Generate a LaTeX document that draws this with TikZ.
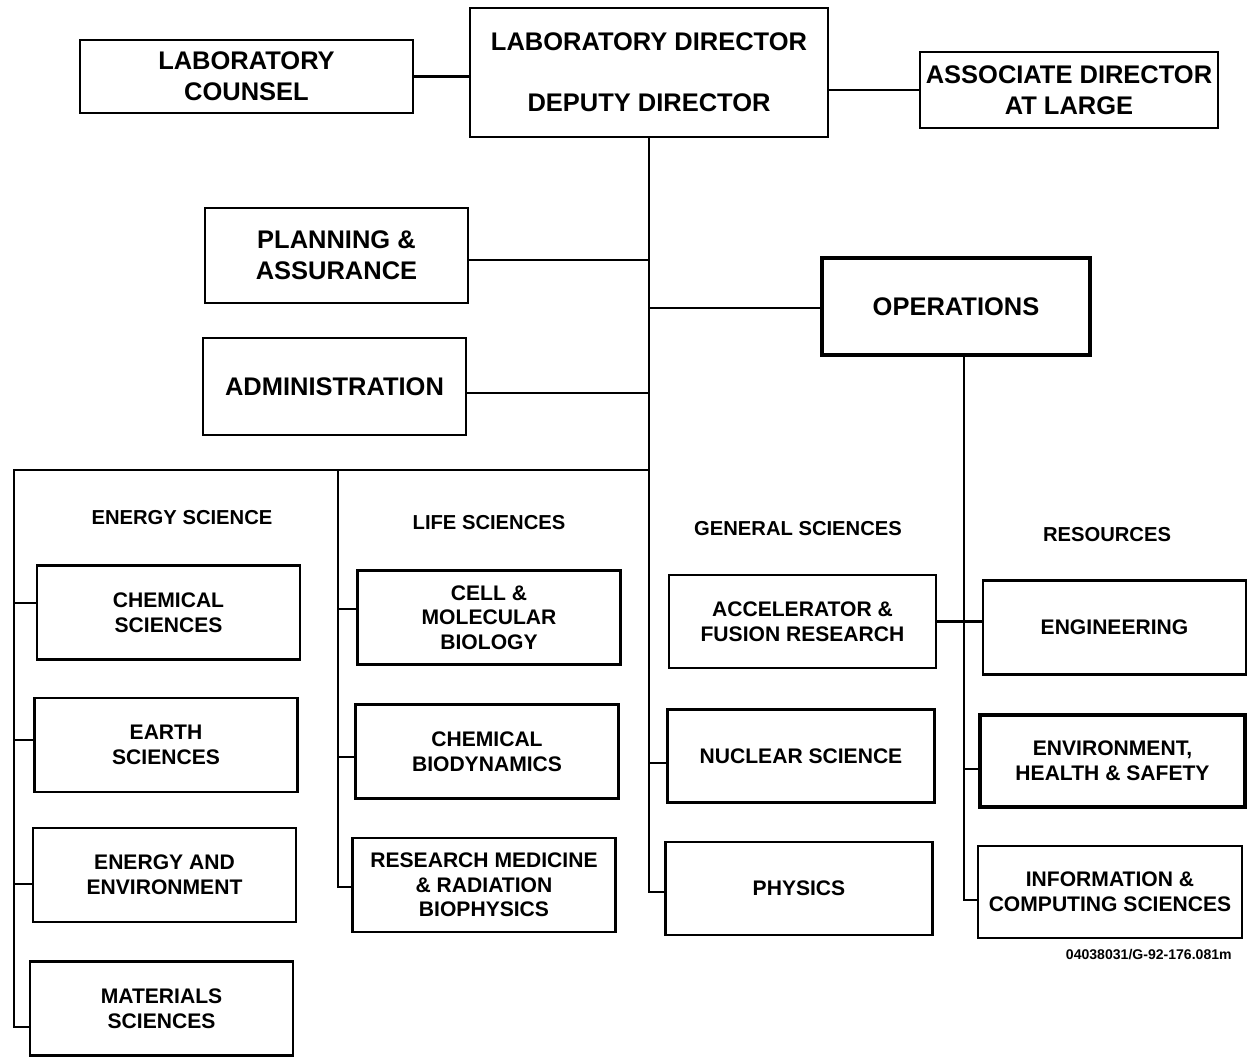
\documentclass[tikz,border=0pt]{standalone}
\usepackage{fontspec}
\setmainfont{Liberation Sans}
\begin{document}
\begin{tikzpicture}[x=0.02cm, y=-0.02cm,
  box/.style={draw, line width=1.6pt, align=center, inner sep=0pt,
    font=\fontsize{12}{14}\selectfont\bfseries},
  bigbox/.style={box, font=\fontsize{14.5}{17.5}\selectfont\bfseries},
  heavy/.style={line width=2.8pt},
  smallbox/.style={box, minimum width=5.26cm, minimum height=1.88cm},
  head/.style={font=\fontsize{11.5}{13}\selectfont\bfseries, inner sep=0pt},
  link/.style={line width=1.4pt}]
\useasboundingbox (0,0) rectangle (1248,1058);

% top management
\node[bigbox, minimum width=7.16cm, minimum height=2.58cm] (director) at (649,72.5)
  {LABORATORY DIRECTOR\\[17pt]DEPUTY DIRECTOR};
\node[bigbox, minimum width=6.66cm, minimum height=1.46cm] (counsel) at (246.5,76.5)
  {LABORATORY\\COUNSEL};
\node[bigbox, minimum width=5.96cm, minimum height=1.52cm] (assoc) at (1069,90)
  {ASSOCIATE DIRECTOR\\AT LARGE};
\node[bigbox, minimum width=5.26cm, minimum height=1.9cm] (planning) at (336.5,255.5)
  {PLANNING \&\\ASSURANCE};
\node[bigbox, heavy, minimum width=5.36cm, minimum height=1.94cm] (operations) at (956,306.5)
  {OPERATIONS};
\node[bigbox, minimum width=5.26cm, minimum height=1.94cm] (admin) at (334.5,386.5)
  {ADMINISTRATION};

% column headings
\node[head] (hEnergy) at (182,518) {ENERGY SCIENCE};
\node[head] (hLife) at (489,523) {LIFE SCIENCES};
\node[head] (hGeneral) at (798,529) {GENERAL SCIENCES};
\node[head] (hRes) at (1107,535) {RESOURCES};

% energy science
\node[smallbox] (chem) at (168.5,612.5) {CHEMICAL\\SCIENCES};
\node[smallbox] (earth) at (166,745) {EARTH\\SCIENCES};
\node[smallbox] (enenv) at (164.5,875) {ENERGY AND\\ENVIRONMENT};
\node[smallbox] (materials) at (161.5,1008.5) {MATERIALS\\SCIENCES};

% life sciences
\node[smallbox] (cell) at (489,617.5) {CELL \&\\MOLECULAR\\BIOLOGY};
\node[smallbox] (chembio) at (487,751.5) {CHEMICAL\\BIODYNAMICS};
\node[smallbox] (research) at (484,885) {RESEARCH MEDICINE\\\& RADIATION\\BIOPHYSICS};

% general sciences
\node[smallbox, minimum width=5.34cm, minimum height=1.86cm] (accel) at (802.5,621.5)
  {ACCELERATOR \&\\FUSION RESEARCH};
\node[smallbox, minimum width=5.34cm, minimum height=1.86cm] (nuclear) at (801,756)
  {NUCLEAR SCIENCE};
\node[smallbox, minimum width=5.34cm, minimum height=1.86cm] (physics) at (799,888.5)
  {PHYSICS};

% resources
\node[smallbox] (eng) at (1114.5,627.5) {ENGINEERING};
\node[smallbox, heavy, minimum width=5.3cm, minimum height=1.84cm] (ehs) at (1112.5,761)
  {ENVIRONMENT,\\HEALTH \& SAFETY};
\node[smallbox, minimum width=5.28cm, minimum height=1.84cm] (info) at (1110,892)
  {INFORMATION \&\\COMPUTING SCIENCES};

\node[font=\fontsize{8}{9}\selectfont\bfseries, inner sep=0pt, anchor=east] (code)
  at (1232,955) {04038031/G-92-176.081m};

% attachment points on the box sides
\coordinate (pPlan) at ([yshift=-0.09cm]planning.east);
\coordinate (pOps) at ([yshift=-0.03cm]operations.west);
\coordinate (pAdm) at ([yshift=-0.13cm]admin.east);
\coordinate (pChem) at ([yshift=0.19cm]chem.west);
\coordinate (pEarth) at ([yshift=0.10cm]earth.west);
\coordinate (pEnEnv) at ([yshift=-0.18cm]enenv.west);
\coordinate (pMat) at ([yshift=-0.37cm]materials.west);
\coordinate (pCell) at ([yshift=0.17cm]cell.west);
\coordinate (pChemBio) at ([yshift=-0.11cm]chembio.west);
\coordinate (pRes) at ([yshift=-0.04cm]research.west);
\coordinate (pNuc) at ([yshift=-0.14cm]nuclear.west);
\coordinate (pPhys) at ([yshift=-0.07cm]physics.west);
\coordinate (pEhs) at ([yshift=-0.16cm]ehs.west);
\coordinate (pInfo) at ([yshift=-0.16cm]info.west);

% connectors: top level
\draw[link] (counsel.east) -- (counsel.east -| director.west);
\draw[link] (assoc.west) -- (assoc.west -| director.east);
\draw[link] (director.south) -- (director.south |- pPhys) -- (pPhys);
\draw[link] (pPlan) -- (pPlan -| director.south);
\draw[link] (pOps) -- (pOps -| director.south);
\draw[link] (pAdm) -- (pAdm -| director.south);

% bar feeding the science divisions
\coordinate (bar) at (director.south |- 0,470);
\coordinate (ebar) at (14,470);
\coordinate (lbar) at (338,470);
\draw[link] (bar) -- (ebar) -- (ebar |- pMat) -- (pMat);
\draw[link] (ebar |- pChem) -- (pChem);
\draw[link] (ebar |- pEarth) -- (pEarth);
\draw[link] (ebar |- pEnEnv) -- (pEnEnv);

\draw[link] (lbar) -- (lbar |- pRes) -- (pRes);
\draw[link] (lbar |- pCell) -- (pCell);
\draw[link] (lbar |- pChemBio) -- (pChemBio);

\draw[link] (director.south |- pNuc) -- (pNuc);

% resources branch from operations
\coordinate (rtop) at ([xshift=0.16cm]operations.south);
\draw[link] (rtop) -- (rtop |- pInfo) -- (pInfo);
\draw[link] (rtop |- pEhs) -- (pEhs);
\draw[link] (accel.east) -- (accel.east -| eng.west);
\end{tikzpicture}
\end{document}
